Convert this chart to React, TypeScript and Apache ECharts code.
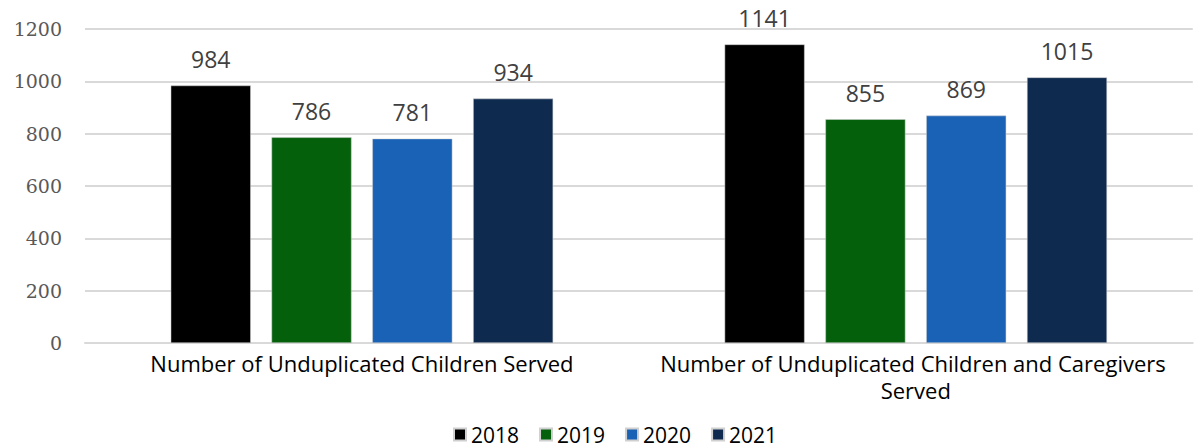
import React, { useEffect, useRef } from "react";
import * as echarts from "echarts";

const categories = [
  "Number of Unduplicated Children Served",
  "Number of Unduplicated Children and Caregivers Served",
];
const years = ["2018", "2019", "2020", "2021"];
const values2018 = [984, 1141];
const values2019 = [786, 855];
const values2020 = [781, 869];
const values2021 = [934, 1015];
const colors = ["#000000", "#05600c", "#1a62b5", "#0f2a4f"];
const yTicks = { min: 0, max: 1200, interval: 200 };

export default function App() {
  const ref = useRef<HTMLDivElement>(null);
  useEffect(() => {
    const chart = echarts.init(ref.current!, null, { renderer: "svg" });
    const seriesData = [values2018, values2019, values2020, values2021];
    chart.setOption({
      animation: false,
      color: colors,
      grid: { left: 85, right: 0, top: 29, bottom: 105, containLabel: false },
      legend: {
        bottom: -2,
        left: 448,
        itemWidth: 12,
        itemHeight: 12,
        itemGap: 20,
        icon: "rect",
        textStyle: { fontFamily: "Open Sans", fontSize: 21, color: "#000" },
        data: years,
      },
      xAxis: {
        type: "category",
        data: categories,
        axisTick: { show: false },
        axisLine: { lineStyle: { color: "#d9d9d9", width: 2 } },
        axisLabel: {
          interval: 0,
          width: 556,
          overflow: "break",
          fontFamily: "Open Sans",
          fontSize: 22,
          color: "#000",
          lineHeight: 27,
          margin: 6,
        },
      },
      yAxis: {
        type: "value",
        min: yTicks.min,
        max: yTicks.max,
        interval: yTicks.interval,
        axisLine: { show: false },
        axisTick: { show: false },
        splitLine: { lineStyle: { color: "#d9d9d9", width: 2 } },
        axisLabel: {
          formatter: (v: number) => String(v),
          fontFamily: "DejaVu Serif",
          fontSize: 19,
          color: "#595959",
          margin: 23,
        },
      },
      series: years.map((y, i) => ({
        name: y,
        type: "bar",
        data: seriesData[i],
        barWidth: 80,
        barGap: "26%",
        itemStyle: { color: colors[i], borderColor: "#d0d0d0", borderWidth: 0.5 },
        label: {
          show: true,
          position: "top",
          distance: 15,
          fontFamily: "Open Sans",
          fontSize: 23,
          color: "#404040",
        },
      })),
    });
    return () => chart.dispose();
  }, []);
  return (
    <div
      ref={ref}
      style={{ position: "fixed", left: 0, top: 0, width: 1196, height: 448, background: "#fff" }}
    />
  );
}
